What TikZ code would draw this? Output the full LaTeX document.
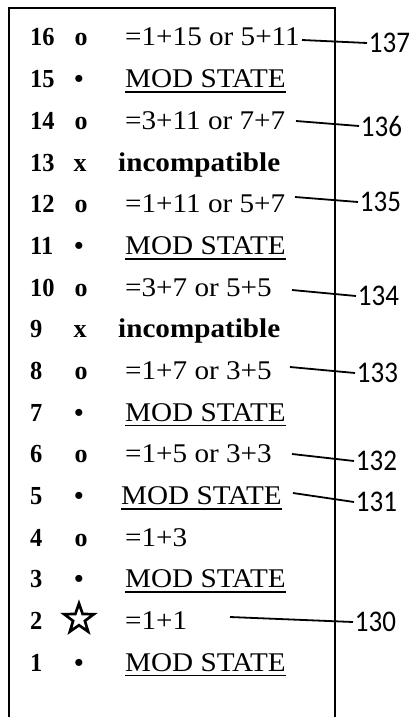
\documentclass[tikz,border=0pt]{standalone}
\usepackage{fontspec}
\setmainfont{Liberation Serif}
\newfontfamily\labelfont{Carlito}
\newcommand{\modstate}{\vtop{\hbox{MOD STATE}\kern3.4pt\hrule height 1.7pt}}
\usetikzlibrary{shapes.geometric}
\tikzset{
	rownum/.style={anchor=base west, inner sep=0pt, xscale=0.94, font=\fontsize{26}{30}\selectfont\bfseries},
	rowsym/.style={anchor=base, inner sep=0pt, font=\fontsize{26}{30}\selectfont\bfseries},
	rowtext/.style={anchor=base west, inner sep=0pt, xscale=1.08, font=\fontsize{27}{32}\selectfont},
	rowbad/.style={anchor=base west, inner sep=0pt, xscale=1.08, font=\fontsize{27}{32}\selectfont\bfseries},
	refnum/.style={anchor=west, inner sep=2pt, xscale=0.9, font=\fontsize{30}{34}\selectfont\labelfont},
	leader/.style={line width=1.8pt},
	frame/.style={line width=2.2pt}
}
\begin{document}
\begin{tikzpicture}[x=1pt, y=-1pt]
	\useasboundingbox (0,0) rectangle (418,717);
	\draw[frame] (9,717) -- (9,8) -- (335,8) -- (335,717);
	
	\node[rownum] (n16) at (30,46) {16};
	\node[rowsym] (s16) at (81,46) {o};
	\node[rowtext] (t16) at (125,46) {=1+15 or 5+11};
	
	\node[rownum] (n15) at (30,87.7) {15};
	\node[rowsym] (s15) at (79,87.7) {\textbullet};
	\node[rowtext] (t15) at (125,87.7) {\modstate};
	
	\node[rownum] (n14) at (30,129.3) {14};
	\node[rowsym] (s14) at (81,129.3) {o};
	\node[rowtext] (t14) at (125,129.3) {=3+11 or 7+7};
	
	\node[rownum] (n13) at (30,171) {13};
	\node[rowsym] (s13) at (80,171) {x};
	\node[rowbad] (t13) at (118,171) {incompatible};
	
	\node[rownum] (n12) at (30,212.7) {12};
	\node[rowsym] (s12) at (81,212.7) {o};
	\node[rowtext] (t12) at (125,212.7) {=1+11 or 5+7};
	
	\node[rownum] (n11) at (30,254.3) {11};
	\node[rowsym] (s11) at (79,254.3) {\textbullet};
	\node[rowtext] (t11) at (125,254.3) {\modstate};
	
	\node[rownum] (n10) at (30,296) {10};
	\node[rowsym] (s10) at (81,296) {o};
	\node[rowtext] (t10) at (125,296) {=3+7 or 5+5};
	
	\node[rownum] (n9) at (30,337.7) {9};
	\node[rowsym] (s9) at (80,337.7) {x};
	\node[rowbad] (t9) at (118,337.7) {incompatible};
	
	\node[rownum] (n8) at (30,379.3) {8};
	\node[rowsym] (s8) at (81,379.3) {o};
	\node[rowtext] (t8) at (125,379.3) {=1+7 or 3+5};
	
	\node[rownum] (n7) at (30,421) {7};
	\node[rowsym] (s7) at (79,421) {\textbullet};
	\node[rowtext] (t7) at (125,421) {\modstate};
	
	\node[rownum] (n6) at (30,462.7) {6};
	\node[rowsym] (s6) at (81,462.7) {o};
	\node[rowtext] (t6) at (125,462.7) {=1+5 or 3+3};
	
	\node[rownum] (n5) at (30,504.3) {5};
	\node[rowsym] (s5) at (79,504.3) {\textbullet};
	\node[rowtext] (t5) at (121,504.3) {\modstate};
	
	\node[rownum] (n4) at (30,546) {4};
	\node[rowsym] (s4) at (81,546) {o};
	\node[rowtext] (t4) at (125,546) {=1+3};
	
	\node[rownum] (n3) at (30,587.7) {3};
	\node[rowsym] (s3) at (79,587.7) {\textbullet};
	\node[rowtext] (t3) at (125,587.7) {\modstate};
	
	\node[rownum] (n2) at (30,629.3) {2};
	\node[star, star points=5, star point ratio=2.5, draw, line width=2.7pt, inner sep=0pt, minimum size=31pt] (s2) at (79,619) {};
	\node[rowtext] (t2) at (125,629.3) {=1+1};
	
	\node[rownum] (n1) at (30,671) {1};
	\node[rowsym] (s1) at (79,671) {\textbullet};
	\node[rowtext] (t1) at (125,671) {\modstate};
	
	\node[refnum] (r137) at (367,43) {137};
	\node[refnum] (r136) at (359,126) {136};
	\node[refnum] (r135) at (358,202) {135};
	\node[refnum] (r134) at (356,296) {134};
	\node[refnum] (r133) at (355,373) {133};
	\node[refnum] (r132) at (354,461) {132};
	\node[refnum] (r131) at (354,502) {131};
	\node[refnum] (r130) at (353,622) {130};
	
	\coordinate (c137) at (302,40);
	\coordinate (c136) at (296,121);
	\coordinate (c135) at (295,197);
	\coordinate (c134) at (292,290);
	\coordinate (c133) at (290,367);
	\coordinate (c132) at (292,454);
	\coordinate (c131) at (293,493);
	\coordinate (c130) at (230,617);
	
	\draw[leader] (c137) -- (r137.west);
	\draw[leader] (c136) -- (r136.west);
	\draw[leader] (c135) -- (r135.west);
	\draw[leader] (c134) -- (r134.west);
	\draw[leader] (c133) -- (r133.west);
	\draw[leader] (c132) -- (r132.west);
	\draw[leader] (c131) -- (r131.west);
	\draw[leader] (c130) -- (r130.west);
\end{tikzpicture}
\end{document}
